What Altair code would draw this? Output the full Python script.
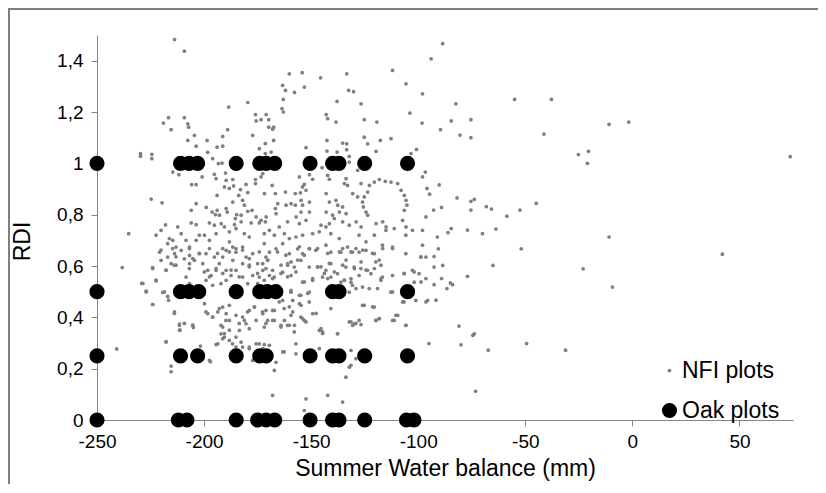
import altair as alt
import pandas as pd

# ---------------- data ----------------
series_names = ["NFI plots", "Oak plots"]
x_ticks = [-250, -200, -150, -100, -50, 0, 50]
y_ticks = [0, 0.2, 0.4, 0.6, 0.8, 1.0, 1.2, 1.4]

# Oak plots: RDI classes and water-balance values per class
oak_rdi_1 = [-250, -211, -207, -203, -185, -174, -171, -167, -150.5, -140, -137, -125, -105]
oak_rdi_05 = [-250, -211, -207, -202.5, -185, -174, -170.5, -166.5, -140, -137, -105]
oak_rdi_025 = [-250, -211, -203, -185, -174, -171, -150.5, -140, -137, -125, -105]
oak_rdi_0 = [-250, -212, -208, -185, -175, -171, -167, -150.5, -140, -137, -125, -105.5, -102]

# NFI plots: (summer water balance, RDI)
nfi_outer = [
    (-88.6, 1.466), (-94, 1.407), (-82.4, 1.232), (-55, 1.249), (-37.8, 1.249), (-84.6, 1.165),
    (-75.4, 1.17), (-89.6, 1.131), (-80.5, 1.11), (-75.4, 1.10), (-41.3, 1.114), (-10.9, 1.152),
    (-1.7, 1.161), (-25.2, 1.034), (-20.5, 1.047), (-21, 1.0), (73.7, 1.026), (-90.2, 0.916),
    (-81.9, 0.865), (-75.4, 0.852), (-73.8, 0.86), (-92.8, 0.818), (-89.1, 0.828), (-75.4, 0.818),
    (-68.2, 0.831), (-65.8, 0.822), (-58.6, 0.794), (-52.5, 0.818), (-44.9, 0.844), (-84.6, 0.746),
    (-63.7, 0.744), (-77, 0.74), (-86.1, 0.73), (-91.1, 0.713), (-70, 0.726), (-10.9, 0.713),
    (-90.6, 0.667), (-92.6, 0.637), (-51.9, 0.667), (42, 0.646), (-88.6, 0.602), (-65.1, 0.602),
    (-23, 0.589), (-89.1, 0.551), (-77, 0.56), (-92.6, 0.527), (-86.6, 0.512), (-85, 0.534),
    (-84, 0.527), (-9.3, 0.518), (-91.7, 0.467), (-81, 0.366), (-74.5, 0.33), (-73.8, 0.336),
    (-95, 0.298), (-80, 0.293), (-67.3, 0.272), (-49.4, 0.298), (-31.2, 0.272), (-73.2, 0.112),
    (-235.2, 0.726), (-238.2, 0.594), (-240.8, 0.277), (-229.1, 0.532), (-224, 0.594), (-227, 0.502),
    (-224, 0.45), (-222.4, 0.542), (-219.3, 0.497), (-217, 0.482), (-216.6, 0.467), (-217.7, 0.305),
    (-215.4, 0.21), (-215.4, 0.188), (-213.8, 0.421), (-211.5, 0.374), (-209.2, 0.376), (-211.2, 0.35),
    (-205.3, 0.37), (-205, 0.36), (-201.7, 0.288), (-197, 0.227),
]

nfi_upper_left = [
    (-213.8, 1.482), (-209.2, 1.437), (-219, 1.157), (-216.6, 1.178), (-215.4, 1.131), (-209.2, 1.178),
    (-207.6, 1.154), (-207.2, 1.141), (-204.5, 1.109), (-207.6, 1.089), (-203.7, 1.067), (-198.6, 1.089),
    (-229.7, 1.038), (-229.7, 1.028), (-224.4, 1.035), (-224.4, 1.018), (-188.5, 1.219), (-179.6, 1.237),
    (-176, 1.19), (-171, 1.19), (-173.4, 1.17), (-175.7, 1.165), (-177.3, 1.109), (-189, 1.131),
    (-191.3, 1.105), (-193.9, 1.063), (-191.3, 1.067), (-196, 1.018), (-198.3, 1.043), (-193.3, 0.999),
    (-191.6, 1.001), (-171.4, 1.077), (-174.2, 1.057), (-171.4, 1.038), (-214.6, 0.966), (-211.8, 0.956),
    (-200.9, 0.947), (-205.8, 0.917), (-203.7, 0.917), (-195.2, 0.957), (-194.4, 0.94), (-190, 0.962),
    (-189.7, 0.934), (-186.6, 0.937), (-190.5, 0.908), (-188.2, 0.902), (-186.2, 0.912), (-183, 0.898),
    (-183.8, 0.875), (-182, 0.856), (-179.6, 0.886), (-180.4, 0.918), (-176, 0.937), (-176, 0.921),
    (-172.6, 0.96), (-173.4, 0.947), (-171.8, 0.882), (-193.9, 0.875), (-186.6, 0.849), (-181.2, 0.837),
    (-224.7, 0.861), (-219.6, 0.846), (-203.7, 0.843), (-199, 0.828), (-196.2, 0.81), (-193.9, 0.817),
    (-194.7, 0.8), (-192.8, 0.798), (-206, 0.817), (-189.7, 0.824), (-189.2, 0.81), (-182.7, 0.798),
    (-185.4, 0.785), (-184.8, 0.8), (-179.6, 0.813), (-177.6, 0.817), (-175.7, 0.791), (-173.4, 0.778),
    (-218, 0.76), (-212.3, 0.752), (-206, 0.768), (-203.7, 0.761), (-197.5, 0.768), (-195.2, 0.759),
    (-192, 0.765), (-190.5, 0.752), (-185.8, 0.761), (-182.7, 0.772), (-178, 0.768), (-174.2, 0.768),
    (-171.4, 0.772),
]

nfi_upper_right = [
    (-160.2, 1.349), (-154.2, 1.353), (-133.4, 1.349), (-112, 1.362), (-145.6, 1.333), (-163.3, 1.304),
    (-162, 1.284), (-157.8, 1.276), (-153.2, 1.297), (-163, 1.249), (-132.5, 1.284), (-130.2, 1.279),
    (-105.7, 1.31), (-98, 1.271), (-137.9, 1.241), (-126.7, 1.232), (-163.6, 1.213), (-163, 1.2),
    (-103.9, 1.196), (-143, 1.19), (-142.3, 1.174), (-138.4, 1.161), (-125.2, 1.17), (-119.3, 1.161),
    (-98.2, 1.157), (-169.8, 1.17), (-169.8, 1.141), (-168, 1.133), (-167.5, 1.141), (-167.5, 1.089),
    (-168.7, 1.044), (-142.6, 1.089), (-135.3, 1.079), (-133.4, 1.076), (-133.4, 1.053), (-125.2, 1.102),
    (-123.6, 1.076), (-117.7, 1.089), (-112.7, 1.096), (-152.4, 1.061), (-142.6, 1.048), (-137.9, 1.044),
    (-132.2, 1.027), (-119.7, 1.047), (-103.4, 1.038), (-144.9, 0.983), (-132.2, 1.005), (-100.8, 1.054),
    (-155.5, 0.947), (-150.8, 0.956), (-149.3, 0.938), (-153.2, 0.918), (-154, 0.908), (-142.3, 0.953),
    (-141.5, 0.938), (-133.7, 0.94), (-134.5, 0.921), (-133, 0.914), (-128.3, 0.973), (-126.7, 0.921),
    (-120.5, 0.927), (-118.2, 0.937), (-115.4, 0.93), (-112.7, 0.927), (-109.6, 0.921), (-122.8, 0.914),
    (-108, 0.895), (-106.5, 0.875), (-105.7, 0.856), (-105.3, 0.837), (-106.5, 0.817), (-98, 0.947),
    (-96.7, 0.966), (-95.9, 0.902), (-94.7, 0.88), (-123.6, 0.888), (-125.2, 0.869), (-126, 0.849),
    (-125.6, 0.83), (-124.4, 0.81), (-123.6, 0.798), (-166.7, 0.882), (-162, 0.888), (-157.4, 0.882),
    (-155, 0.885), (-152.4, 0.895), (-168.2, 0.914), (-165.6, 0.843), (-166.7, 0.824), (-166.4, 0.804),
    (-161.7, 0.837), (-159.4, 0.843), (-157.4, 0.837), (-154.7, 0.856), (-154, 0.837), (-150.8, 0.849),
    (-154.7, 0.81), (-150.8, 0.81), (-143, 0.882), (-141.5, 0.849), (-138.4, 0.856), (-137.6, 0.837),
    (-135.3, 0.83), (-143, 0.81), (-140, 0.798), (-136.8, 0.81), (-133.7, 0.804), (-130.6, 0.882),
    (-128.3, 0.869), (-171, 0.791), (-161, 0.772), (-157, 0.791), (-155.5, 0.765), (-152.4, 0.778),
    (-145.4, 0.759), (-141.5, 0.765), (-139.2, 0.785), (-135.3, 0.772), (-132.2, 0.759), (-129, 0.772),
    (-126.7, 0.752), (-119.7, 0.765), (-116.6, 0.772), (-115, 0.752), (-107.3, 0.778), (-105.7, 0.752),
    (-96.4, 0.791),
]

nfi_lower_left = [
    (-220.1, 0.739), (-222.4, 0.72), (-216.2, 0.707), (-217, 0.687), (-213.1, 0.674), (-210.7, 0.726),
    (-208.4, 0.7), (-206.8, 0.674), (-203.7, 0.7), (-202.2, 0.72), (-199.8, 0.72), (-197.5, 0.7),
    (-194.4, 0.726), (-188.2, 0.733), (-185.1, 0.746), (-181.2, 0.726), (-178.9, 0.713), (-220.8, 0.654),
    (-217, 0.635), (-213.8, 0.648), (-215.4, 0.609), (-217.7, 0.583), (-220.1, 0.622), (-213.1, 0.603),
    (-210.7, 0.661), (-209.2, 0.628), (-206.8, 0.641), (-206.8, 0.609), (-204.5, 0.622), (-202.2, 0.648),
    (-200.6, 0.609), (-198.3, 0.583), (-196.7, 0.563), (-194.4, 0.583), (-192.9, 0.609), (-191.3, 0.635),
    (-189.7, 0.661), (-188.2, 0.694), (-186.6, 0.674), (-185.1, 0.654), (-182, 0.674), (-180.4, 0.635),
    (-177.3, 0.648), (-175, 0.609), (-172.6, 0.583), (-174.2, 0.557), (-171.1, 0.635), (-199.1, 0.648),
    (-195.2, 0.635), (-199.1, 0.544), (-196, 0.525), (-192.1, 0.531), (-189.7, 0.544), (-187.4, 0.563),
    (-185.1, 0.583), (-182, 0.557), (-179.6, 0.531), (-177.3, 0.563), (-175, 0.531), (-171.9, 0.544),
    (-169.5, 0.563), (-182, 0.609), (-178.9, 0.603), (-186.6, 0.622), (-189.7, 0.583), (-208.4, 0.557),
    (-206.8, 0.531), (-214.6, 0.7),
    (-199.8, 0.453), (-198.3, 0.414), (-196, 0.401), (-193.6, 0.421), (-191.3, 0.44), (-189.7, 0.414),
    (-188.2, 0.388), (-191.3, 0.362), (-192.1, 0.336), (-190.5, 0.323), (-193.6, 0.297), (-188.2, 0.31),
    (-185.1, 0.323), (-183.5, 0.349), (-180.4, 0.375), (-182, 0.401), (-178.9, 0.427), (-176.5, 0.44),
    (-172.6, 0.414), (-175.7, 0.388), (-171.9, 0.362), (-170.3, 0.388), (-182.7, 0.303), (-178.9, 0.284),
    (-175.7, 0.297), (-172.6, 0.278), (-169.5, 0.291), (-197.5, 0.232), (-185.1, 0.284), (-177.3, 0.232),
    (-175, 0.245),
]

nfi_lower_right = [
    (-171.9, 0.726), (-169.5, 0.739), (-167.2, 0.72), (-164.9, 0.752), (-162.5, 0.726), (-160.2, 0.707),
    (-157.1, 0.713), (-154, 0.72), (-149.3, 0.726), (-146.2, 0.733), (-143.1, 0.752), (-140.8, 0.726),
    (-136.9, 0.707), (-127.6, 0.72), (-124.4, 0.694), (-120.5, 0.72), (-115.1, 0.739), (-111.2, 0.746),
    (-105.8, 0.72), (-102.7, 0.739), (-98, 0.739), (-98, 0.681), (-171.9, 0.687), (-169.5, 0.654),
    (-166.4, 0.667), (-163.3, 0.687), (-160.2, 0.648), (-156.3, 0.667), (-154, 0.648), (-150.9, 0.667),
    (-147.8, 0.661), (-143.1, 0.681), (-140.8, 0.654), (-136.1, 0.654), (-133, 0.674), (-130.7, 0.654),
    (-127.6, 0.654), (-124.4, 0.661), (-120.5, 0.648), (-116.7, 0.681), (-112, 0.674), (-105.8, 0.648),
    (-98.8, 0.635), (-172.6, 0.609), (-170.3, 0.622), (-168, 0.583), (-164.1, 0.603), (-161, 0.609),
    (-157.9, 0.596), (-154.8, 0.622), (-150.9, 0.596), (-147, 0.596), (-143.1, 0.583), (-140.8, 0.609),
    (-137.7, 0.57), (-133.8, 0.596), (-129.9, 0.596), (-126.8, 0.59), (-123.7, 0.583), (-119.8, 0.616),
    (-116.7, 0.557), (-112, 0.563), (-106.6, 0.57), (-102.7, 0.583), (-99.6, 0.57), (-167.2, 0.557),
    (-163.3, 0.576), (-159.4, 0.563), (-154, 0.537), (-149.3, 0.544), (-144.7, 0.557), (-140.8, 0.557),
    (-134.5, 0.544), (-131.4, 0.537), (-127.6, 0.563), (-122.1, 0.57), (-117.4, 0.544), (-101.9, 0.537),
    (-96.4, 0.635), (-92.6, 0.596),
    (-163.3, 0.466), (-159.4, 0.498), (-158.6, 0.466), (-154.8, 0.486), (-150.9, 0.498), (-155.5, 0.453),
    (-150.9, 0.46), (-158.6, 0.421), (-154.8, 0.401), (-162.5, 0.388), (-167.2, 0.427), (-171.1, 0.427),
    (-168, 0.388), (-164.1, 0.362), (-160.2, 0.369), (-157.9, 0.343), (-153.2, 0.388), (-149.3, 0.414),
    (-146.2, 0.349), (-144.7, 0.343), (-140.8, 0.434), (-137.7, 0.336), (-131.4, 0.382), (-129.9, 0.375),
    (-127.6, 0.388), (-125.2, 0.447), (-120.5, 0.44), (-119.8, 0.388), (-118.2, 0.395), (-112, 0.388),
    (-110.4, 0.408), (-105.8, 0.369), (-101.1, 0.466), (-96.4, 0.46), (-132.2, 0.206), (-131.4, 0.213),
    (-133.8, 0.167), (-168, 0.096), (-152.4, 0.082), (-142.3, 0.096), (-135.3, 0.07), (-153.2, 0.037),
    (-166.4, 0.225), (-167.2, 0.193), (-157.1, 0.297), (-163.3, 0.265), (-157.1, 0.258), (-146.2, 0.278),
    (-131.4, 0.271), (-129.1, 0.239), (-119, 0.512), (-122.9, 0.512), (-112.8, 0.498), (-106.6, 0.46),
    (-129.1, 0.512), (-126, 0.518), (-136.9, 0.512), (-132.2, 0.498), (-130.7, 0.525), (-136.1, 0.537),
]

# extra points of the dense core (second, closer reading)
nfi_core_left = [
    (-220.1, 0.662), (-214.7, 0.668), (-213.1, 0.636), (-206.9, 0.668), (-205.3, 0.629), (-202.2, 0.649),
    (-197.5, 0.668), (-193.7, 0.649), (-191.3, 0.668), (-188.2, 0.655), (-185.1, 0.668), (-182, 0.662),
    (-178.9, 0.629), (-174.2, 0.655), (-170.3, 0.623), (-165.7, 0.655), (-161.8, 0.642), (-224, 0.59),
    (-217.8, 0.584), (-213.9, 0.603), (-206.9, 0.59), (-199.9, 0.577), (-197.5, 0.558), (-194.4, 0.59),
    (-191.3, 0.571), (-187.4, 0.584), (-183.6, 0.558), (-178.9, 0.597), (-175, 0.571), (-171.1, 0.59),
    (-168, 0.551), (-164.1, 0.571), (-161, 0.603), (-228.6, 0.532), (-227.1, 0.499), (-222.4, 0.545),
    (-218.5, 0.499), (-224, 0.45), (-213.9, 0.415), (-211.5, 0.369), (-205.3, 0.369), (-211.5, 0.35),
    (-199.1, 0.421), (-196, 0.401), (-192.9, 0.434), (-192.1, 0.369), (-189.8, 0.388), (-190.5, 0.337),
    (-191.3, 0.317), (-188.2, 0.35), (-185.1, 0.408), (-183.6, 0.376), (-181.2, 0.388), (-179.7, 0.421),
    (-178.9, 0.356), (-176.5, 0.441), (-172.7, 0.421), (-171.1, 0.376), (-167.2, 0.388), (-164.1, 0.369),
    (-162.6, 0.434), (-164.9, 0.46), (-168, 0.427), (-188.2, 0.447), (-186.7, 0.297), (-182, 0.284),
    (-178.9, 0.278), (-174.2, 0.297), (-171.9, 0.294), (-194.4, 0.294), (-217.8, 0.304), (-162.6, 0.265),
]

nfi_core_right = [
    (-155.5, 0.675), (-150.8, 0.668), (-147, 0.668), (-142.3, 0.649), (-136.8, 0.655), (-135.3, 0.668),
    (-131.4, 0.655), (-129.1, 0.668), (-125.9, 0.662), (-121.3, 0.649), (-116.6, 0.668), (-112, 0.668),
    (-159.4, 0.616), (-156.3, 0.623), (-153.2, 0.642), (-147, 0.597), (-145.4, 0.597), (-141.5, 0.61),
    (-139.2, 0.577), (-135.3, 0.603), (-133.7, 0.623), (-129.8, 0.59), (-126.7, 0.616), (-124.4, 0.584),
    (-120.5, 0.59), (-118.2, 0.623), (-117.4, 0.603), (-161, 0.558), (-157.1, 0.577), (-149.3, 0.551),
    (-143.8, 0.571), (-142.3, 0.551), (-134.5, 0.545), (-131.4, 0.551), (-153.2, 0.538), (-159.4, 0.505),
    (-155.5, 0.486), (-151.6, 0.493), (-160.2, 0.441), (-154.7, 0.447), (-159.4, 0.408), (-154, 0.395),
    (-152.4, 0.382), (-157.8, 0.369), (-161, 0.369), (-147.7, 0.415), (-145.4, 0.356), (-144.6, 0.337),
    (-137.6, 0.337), (-132.2, 0.382), (-130.6, 0.369), (-129.1, 0.376), (-126.7, 0.372), (-126, 0.447),
    (-121.3, 0.441), (-119.7, 0.388), (-118.2, 0.395), (-111.2, 0.388), (-109.6, 0.408), (-105.7, 0.369),
    (-117.4, 0.551), (-112, 0.499), (-107.3, 0.46), (-106.5, 0.571), (-101.9, 0.577), (-98.7, 0.636),
    (-96.4, 0.551), (-95.6, 0.466), (-98.7, 0.538),
]

# ---------------- table ----------------
nfi_all = (nfi_outer + nfi_upper_left + nfi_upper_right + nfi_lower_left + nfi_lower_right
           + nfi_core_left + nfi_core_right)
rows = [{"swb": x, "rdi": y, "series": series_names[0]} for x, y in nfi_all]
for rdi, xs in [(1.0, oak_rdi_1), (0.5, oak_rdi_05), (0.25, oak_rdi_025), (0.0, oak_rdi_0)]:
    rows += [{"swb": x, "rdi": rdi, "series": series_names[1]} for x in xs]
df = pd.DataFrame(rows)

FONT = "Liberation Sans"
AXIS_GRAY = "#868686"

legend_kw = dict(
    title=None, orient="none", legendX=561, legendY=324,
    symbolType="circle", labelFontSize=23, rowPadding=16,
    labelOffset=1, padding=0, symbolOpacity=1,
)

border = alt.Chart(pd.DataFrame({"a": [0]})).mark_rect(
    fill="transparent", stroke="#7f7f7f", strokeWidth=2
).encode(
    x=alt.value(-88), x2=alt.value(760), y=alt.value(-26), y2=alt.value(480)
)

points = alt.Chart(df).mark_circle(opacity=1).encode(
    x=alt.X(
        "swb:Q",
        scale=alt.Scale(domain=[-250, 75], nice=False, zero=False),
        axis=alt.Axis(
            values=x_ticks, title="Summer Water balance (mm)", grid=False,
            labelExpr="'' + datum.value", labelFlush=False,
            labelPadding=6, titlePadding=6,
        ),
    ),
    y=alt.Y(
        "rdi:Q",
        scale=alt.Scale(domain=[0, 1.5], nice=False),
        axis=alt.Axis(
            values=y_ticks, title="RDI", grid=False,
            labelExpr="replace(format(datum.value, '~g'), '.', ',')",
            labelFlush=False, labelPadding=8,
            titleX=-75, titleY=206, titleBaseline="middle", titleAngle=270,
        ),
    ),
    color=alt.Color(
        "series:N",
        scale=alt.Scale(domain=series_names, range=["#7f7f7f", "#000000"]),
        legend=alt.Legend(**legend_kw),
    ),
    size=alt.Size(
        "series:N",
        scale=alt.Scale(domain=series_names, range=[14, 230]),
        legend=alt.Legend(**legend_kw),
    ),
    order=alt.Order("series:N", sort="ascending"),
)

chart = alt.layer(border, points).properties(
    width=696, height=385,
    autosize=alt.AutoSizeParams(type="none"),
    padding={"left": 89, "top": 27, "right": 25, "bottom": 64},
    background="white",
).configure_view(stroke=None).configure_axis(
    domainColor=AXIS_GRAY, tickColor=AXIS_GRAY, tickSize=6,
    labelFont=FONT, labelFontSize=19, labelColor="#000000",
    titleFont=FONT, titleFontSize=23, titleFontWeight="normal", titleColor="#000000",
).configure_legend(
    labelFont=FONT, labelColor="#000000",
)

chart.save("out.html", embed_options={"renderer": "svg", "actions": False})
